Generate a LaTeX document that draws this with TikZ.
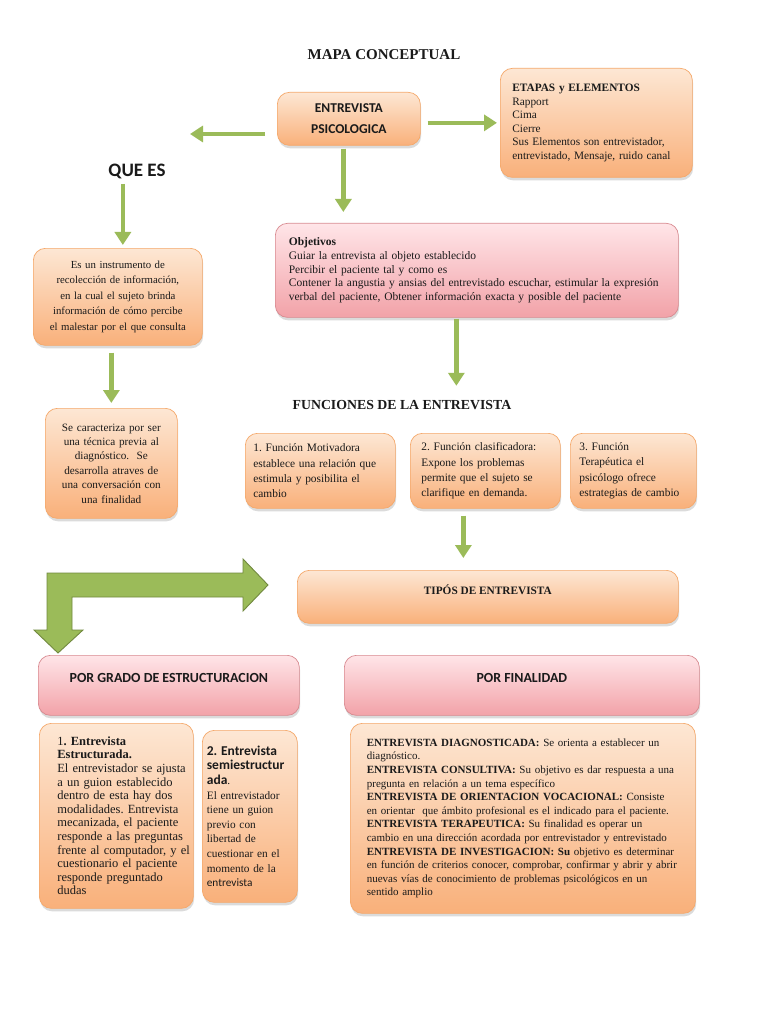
\documentclass[tikz,border=0pt]{standalone}
\usepackage{fontspec}
\setmainfont{Liberation Serif}
\newfontfamily\carl{Carlito}
\usetikzlibrary{arrows.meta,shadows}
\definecolor{otop}{HTML}{FDE7D4}
\definecolor{obot}{HTML}{F9B07A}
\definecolor{oedge}{HTML}{F5A86A}
\definecolor{ptop}{HTML}{FFE5E8}
\definecolor{pbot}{HTML}{F2A2A8}
\definecolor{pedge}{HTML}{D88A90}
\definecolor{grn}{HTML}{9BBB59}
\definecolor{grnedge}{HTML}{71893F}
\definecolor{txt}{HTML}{1A1A1A}
\tikzset{
  basebox/.style={anchor=north west, rounded corners=12pt, line width=0.7pt, inner sep=0pt, text=txt,
    drop shadow={opacity=0.28, shadow xshift=0.8pt, shadow yshift=-3pt}},
  obox/.style={basebox, draw=oedge, top color=otop, bottom color=obot},
  pbox/.style={basebox, draw=pedge, top color=ptop, bottom color=pbot},
  garrow/.style={draw=grn, line width=4.5pt, -{Triangle[length=13pt,width=16pt]}},
  bodytxt/.style={font=\fontsize{11.3}{13.5}\selectfont},
}
\begin{document}
\frenchspacing
\begin{tikzpicture}[x=1pt,y=-1pt]
\fill[white] (0,0) rectangle (768,1024);
\useasboundingbox (0,0) rectangle (768,1024);

% title
\node[font=\bfseries\fontsize{15}{17}\selectfont, text=txt] (title) at (384,55) {MAPA CONCEPTUAL};

% top boxes
\node[obox, minimum width=143pt, minimum height=53pt, align=center,
      font=\carl\bfseries\fontsize{13.5}{21.5}\selectfont] (ent) at (277,92) {ENTREVISTA\\PSICOLOGICA};

\node[obox, minimum width=192pt, minimum height=109pt, text width=168pt, align=left, bodytxt] (etapas) at (500,68)
 {\textbf{ETAPAS y ELEMENTOS}\\Rapport\\Cima\\Cierre\\Sus Elementos son entrevistador,\\entrevistado, Mensaje, ruido canal};

\node[font=\carl\bfseries\fontsize{19}{22}\selectfont, text=txt] (quees) at (137,171) {QUE ES};

\node[obox, minimum width=169pt, minimum height=97pt, text width=164pt, align=center,
      font=\fontsize{10.8}{15.5}\selectfont] (def) at (33,248)
 {Es un instrumento de\\recolección de información,\\en la cual el sujeto brinda\\información de cómo percibe\\el malestar por el que consulta};

\node[obox, minimum width=132pt, minimum height=110pt, text width=128pt, align=center,
      font=\fontsize{11.2}{14.4}\selectfont] (car) at (45,408)
 {Se caracteriza por ser\\una técnica previa al\\diagnóstico.\ \ Se\\desarrolla atraves de\\una conversación con\\una finalidad};

\node[pbox, minimum width=403pt, minimum height=94pt, text width=380pt, align=left,
      font=\fontsize{11.5}{13.6}\selectfont] (obj) at (275,223)
 {\hspace*{2pt}\textbf{Objetivos}\\\hspace*{2pt}Guiar la entrevista al objeto establecido\\\hspace*{2pt}Percibir el paciente tal y como es\\\hspace*{2pt}Contener la angustia y ansias del entrevistado escuchar, estimular la expresión\\\hspace*{2pt}verbal del paciente, Obtener información exacta y posible del paciente};

\node[font=\bfseries\fontsize{13.8}{16}\selectfont, text=txt] (fun) at (402,405) {FUNCIONES DE LA ENTREVISTA};

\node[obox, minimum width=150pt, minimum height=75pt, text width=134pt, align=left,
      font=\fontsize{11.4}{15.3}\selectfont] (f1) at (245,433)
 {1. Función Motivadora\\establece una relación que\\estimula y posibilita el\\cambio};
\node[obox, minimum width=150pt, minimum height=75pt, text width=128pt, align=left,
      font=\fontsize{11.4}{15.3}\selectfont] (f2) at (410,433)
 {2. Función clasificadora:\\Expone los problemas\\permite que el sujeto se\\clarifique en demanda.};
\node[obox, minimum width=126pt, minimum height=75pt, text width=108pt, align=left,
      font=\fontsize{11.4}{15.3}\selectfont] (f3) at (570,433)
 {3. Función\\Terapéutica el\\psicólogo ofrece\\estrategias de cambio};

\node[obox, minimum width=381pt, minimum height=53pt, text depth=14pt,
      font=\bfseries\fontsize{11.3}{13}\selectfont] (tipos) at (297,570) {TIPÓS DE ENTREVISTA};

\node[pbox, minimum width=261pt, minimum height=60pt, text depth=15pt,
      font=\carl\bfseries\fontsize{13.9}{16}\selectfont] (pg) at (38,655) {POR GRADO DE ESTRUCTURACION};
\node[pbox, minimum width=355pt, minimum height=60pt, text depth=15pt,
      font=\carl\bfseries\fontsize{13.9}{16}\selectfont] (pf) at (344,655) {POR FINALIDAD};

\node[obox, minimum width=154pt, minimum height=185pt, text width=150pt, align=left,
      font=\fontsize{12.5}{13.6}\selectfont] (b1) at (39,723)
 {\leftskip=16pt 1\textbf{. Entrevista}\\\textbf{Estructurada.}\\El entrevistador se ajusta\\a un guion establecido\\dentro de esta hay dos\\modalidades. Entrevista\\mecanizada, el paciente\\responde a las preguntas\\frente al computador, y el\\cuestionario el paciente\\responde preguntado\\dudas\par};

\node[obox, minimum width=95pt, minimum height=172pt, text width=86pt, align=left,
      font=\fontsize{11.3}{14.6}\selectfont] (b2) at (202,730)
 {{\carl\bfseries\fontsize{13.5}{14.6}\selectfont 2. Entrevista\\semiestructur\\ada}.\\El entrevistador\\tiene un guion\\previo con\\libertad de\\cuestionar en el\\momento de la\\{\carl entrevista}};

\node[obox, minimum width=345pt, minimum height=190pt, text width=324pt, align=left,
      font=\fontsize{11}{13.6}\selectfont] (b3) at (350,723)
 {\leftskip=6pt \textbf{ENTREVISTA DIAGNOSTICADA:} Se orienta a establecer un\\
  diagnóstico.\\
  \textbf{ENTREVISTA CONSULTIVA:} Su objetivo es dar respuesta a una\\
  pregunta en relación a un tema específico\\
  \textbf{ENTREVISTA DE ORIENTACION VOCACIONAL:} Consiste\\
  en orientar\ \ que ámbito profesional es el indicado para el paciente.\\
  \textbf{ENTREVISTA TERAPEUTICA:} Su finalidad es operar un\\
  cambio en una dirección acordada por entrevistador y entrevistado\\
  \textbf{ENTREVISTA DE INVESTIGACION: Su} objetivo es determinar\\
  en función de criterios conocer, comprobar, confirmar y abrir y abrir\\
  nuevas vías de conocimiento de problemas psicológicos en un\\
  sentido amplio\par};

% connectors
\coordinate (lt) at (190,134);
\draw[garrow, shorten <=12pt] (ent.west |- lt) -- (lt);
\draw[garrow, shorten <=7pt, shorten >=3pt] (ent.east |- etapas.west) -- (etapas.west);
\draw[garrow, shorten <=3pt, shorten >=11pt] ([xshift=-5.5pt]ent.south) -- ([xshift=-5.5pt]ent.south |- obj.north);
\draw[garrow, shorten <=2pt, shorten >=3pt] ([xshift=5pt]def.north |- quees.south) -- ([xshift=5pt]def.north);
\draw[garrow, shorten <=7pt, shorten >=5pt] (car.north |- def.south) -- (car.north);
\draw[garrow, shorten <=1pt, shorten >=11pt] ([xshift=-20.5pt]obj.south) -- ([xshift=-20.5pt]obj.south |- fun.north);
\draw[garrow, shorten <=7pt, shorten >=12pt] ([xshift=-22pt]f2.south) -- ([xshift=-22pt]f2.south |- tipos.north);

% big bent arrow
\draw[fill=grn, draw=grnedge, line width=0.9pt, line join=miter]
  (47,573) -- (243,573) -- (243,559) -- (268,585) -- (243,611) -- (243,597)
  -- (72,597) -- (72,630) -- (83,630) -- (58,653) -- (34,630) -- (47,630) -- cycle;
\end{tikzpicture}
\end{document}
